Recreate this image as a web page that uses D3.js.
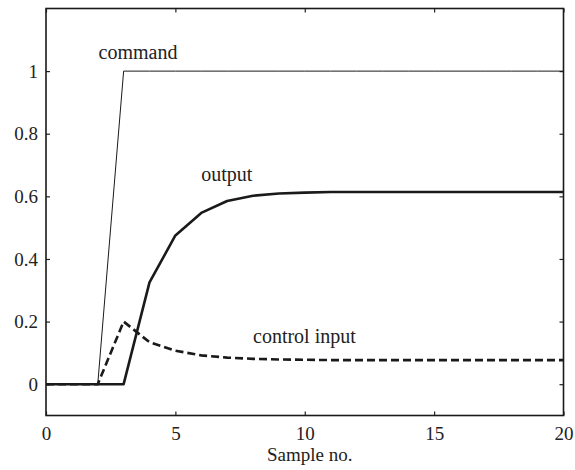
<!DOCTYPE html>
<html>
<head>
  <meta charset="utf-8">
  <title></title>
<style>
  body { margin: 0; background: #fff; }
  .axis text { font-family: "Liberation Serif", "Tinos", "DejaVu Serif", serif; font-size: 19px; fill: #222; }
  .axis path { display: none; }
  .axis line { stroke: #222; stroke-width: 1.2; }
  .note { font-family: "Liberation Serif", "Tinos", "DejaVu Serif", serif; font-size: 20px; fill: #222; }
</style>
</head>
<body>
<svg width="575" height="470"></svg>
<script src="https://d3js.org/d3.v7.min.js"></script>
<script>

// data
var samples = d3.range(0, 21);
var command = [0, 0, 0, 1, 1, 1, 1, 1, 1, 1, 1, 1, 1, 1, 1, 1, 1, 1, 1, 1, 1];
var output = [0, 0, 0, 0, 0.325, 0.475, 0.547, 0.585, 0.602, 0.609, 0.612, 0.614, 0.614, 0.614, 0.614, 0.614, 0.614, 0.614, 0.614, 0.614, 0.614];
// control input starts rising one sample earlier
var control = [0, 0, 0, 0.2, 0.134, 0.107, 0.092, 0.085, 0.081, 0.079, 0.078, 0.077, 0.077, 0.077, 0.077, 0.077, 0.077, 0.077, 0.077, 0.077, 0.077];
var xTicks = [0, 5, 10, 15, 20];
var yTicks = [0, 0.2, 0.4, 0.6, 0.8, 1];

var svg = d3.select("svg"),
    margin = {top: 8.5, right: 11.5, bottom: 54.5, left: 46},
    width = +svg.attr("width") - margin.left - margin.right,
    height = +svg.attr("height") - margin.top - margin.bottom;

var g = svg.append("g")
    .attr("transform", "translate(" + margin.left + "," + margin.top + ")");

var x = d3.scaleLinear().domain([0, 20]).range([0, width]);
var y = d3.scaleLinear().domain([-0.1, 1.2]).range([height, 0]);

// axes, ticks pointing inward
g.append("g")
    .attr("class", "axis")
    .attr("transform", "translate(0," + height + ")")
    .call(d3.axisBottom(x).tickValues(xTicks).tickSizeInner(-4).tickSizeOuter(0))
    .selectAll("text").attr("y", 24).attr("dy", 0);
g.append("g")
    .attr("class", "axis")
    .call(d3.axisTop(x).tickValues(xTicks).tickSizeInner(-4).tickSizeOuter(0).tickFormat(""));
g.append("g")
    .attr("class", "axis")
    .call(d3.axisLeft(y).tickValues(yTicks).tickSizeInner(-4).tickSizeOuter(0).tickFormat(d3.format("")))
    .selectAll("text").attr("x", -8);
g.append("g")
    .attr("class", "axis")
    .attr("transform", "translate(" + width + ",0)")
    .call(d3.axisRight(y).tickValues(yTicks).tickSizeInner(-4).tickSizeOuter(0).tickFormat(""));

g.selectAll(".axis").attr("font-family", null);

g.append("rect")
    .attr("width", width)
    .attr("height", height)
    .attr("fill", "none")
    .attr("stroke", "#1a1a1a")
    .attr("stroke-width", 1.6);

var line = function(vals) {
  return d3.line()
    .x(function(d, i) { return x(samples[i]); })
    .y(function(d) { return y(d); })(vals);
};

g.append("path")
    .attr("d", line(command))
    .attr("fill", "none")
    .attr("stroke", "#1a1a1a")
    .attr("stroke-width", 1);

g.append("path")
    .attr("d", line(control))
    .attr("fill", "none")
    .attr("stroke", "#1a1a1a")
    .attr("stroke-width", 2.6)
    .attr("stroke-dasharray", "8,4");

g.append("path")
    .attr("d", line(output))
    .attr("fill", "none")
    .attr("stroke", "#1a1a1a")
    .attr("stroke-width", 2.6)
    .attr("stroke-linejoin", "round");

// labels
g.append("text").attr("class", "note")
    .attr("x", x(2.03)).attr("y", y(1.04))
    .text("command");
g.append("text").attr("class", "note")
    .attr("x", x(6.0)).attr("y", y(0.648))
    .text("output");
g.append("text").attr("class", "note")
    .attr("x", x(8.0)).attr("y", y(0.13))
    .text("control input");

svg.append("text")
    .attr("class", "note")
    .style("font-size", "19px")
    .attr("x", margin.left + width / 2 + 5)
    .attr("y", 461)
    .attr("text-anchor", "middle")
    .text("Sample no.");

</script>
</body>
</html>
